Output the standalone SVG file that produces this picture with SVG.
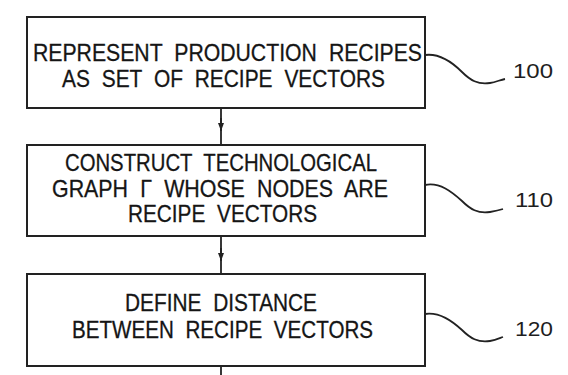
<svg xmlns="http://www.w3.org/2000/svg" width="568" height="375" viewBox="0 0 568 375">
<defs>
<style>
.box{fill:#fff;stroke:#222;stroke-width:2}
.t{font-family:"Liberation Sans",Arial,sans-serif;font-size:24px;fill:#151515;stroke:#151515;stroke-width:0.3;word-spacing:7px}
.lbl{font-family:"Liberation Sans",Arial,sans-serif;font-size:21px;fill:#1e1e1e}
.ln{fill:none;stroke:#222;stroke-width:1.8}
</style>
<marker id="ah" viewBox="0 0 8 6" refX="8" refY="3" markerWidth="8" markerHeight="6" markerUnits="userSpaceOnUse" orient="auto">
<path d="M0,0 L8,3 L0,6 Z" fill="#222"/>
</marker>
</defs>
<rect width="568" height="375" fill="#fff"/>
<g id="connectors">
<line class="ln" x1="221" y1="109" x2="221" y2="144"/>
<line class="ln" x1="221" y1="118" x2="221" y2="131" marker-end="url(#ah)"/>
<line class="ln" x1="221" y1="237" x2="221" y2="273"/>
<line class="ln" x1="221" y1="248" x2="221" y2="261" marker-end="url(#ah)"/>
<line class="ln" x1="221" y1="367" x2="221" y2="375"/>
<path class="ln" d="M425,55 C440,53 452,62 462,72 C470,80 478,85 490,83 C496,82 500,80 505,79"/>
<path class="ln" d="M425,185 C440,182 452,192 462,201 C470,209 478,214 490,212 C496,211 500,210 503,209"/>
<path class="ln" d="M425,314 C440,312 452,321 462,330 C470,338 478,343 490,341 C496,340 500,338 503,337"/>
</g>
<g id="n100">
<rect class="box" x="27" y="17" width="398" height="91"/>
<text class="t" x="33" y="61" textLength="389" lengthAdjust="spacingAndGlyphs">REPRESENT PRODUCTION RECIPES</text>
<text class="t" x="62" y="87" textLength="323" lengthAdjust="spacingAndGlyphs">AS SET OF RECIPE VECTORS</text>
<text class="lbl" x="513" y="78" textLength="40" lengthAdjust="spacingAndGlyphs">100</text>
</g>
<g id="n110">
<rect class="box" x="27" y="145" width="398" height="91"/>
<text class="t" x="65" y="171" textLength="312" lengthAdjust="spacingAndGlyphs">CONSTRUCT TECHNOLOGICAL</text>
<text class="t" x="52" y="197" textLength="336" lengthAdjust="spacingAndGlyphs">GRAPH Γ WHOSE NODES ARE</text>
<text class="t" x="128" y="222" textLength="189" lengthAdjust="spacingAndGlyphs">RECIPE VECTORS</text>
<text class="lbl" x="515" y="207" textLength="38" lengthAdjust="spacingAndGlyphs">110</text>
</g>
<g id="n120">
<rect class="box" x="27" y="274" width="398" height="92"/>
<text class="t" x="125" y="311" textLength="192" lengthAdjust="spacingAndGlyphs">DEFINE DISTANCE</text>
<text class="t" x="72" y="338" textLength="301" lengthAdjust="spacingAndGlyphs">BETWEEN RECIPE VECTORS</text>
<text class="lbl" x="515" y="336" textLength="38" lengthAdjust="spacingAndGlyphs">120</text>
</g>
</svg>
